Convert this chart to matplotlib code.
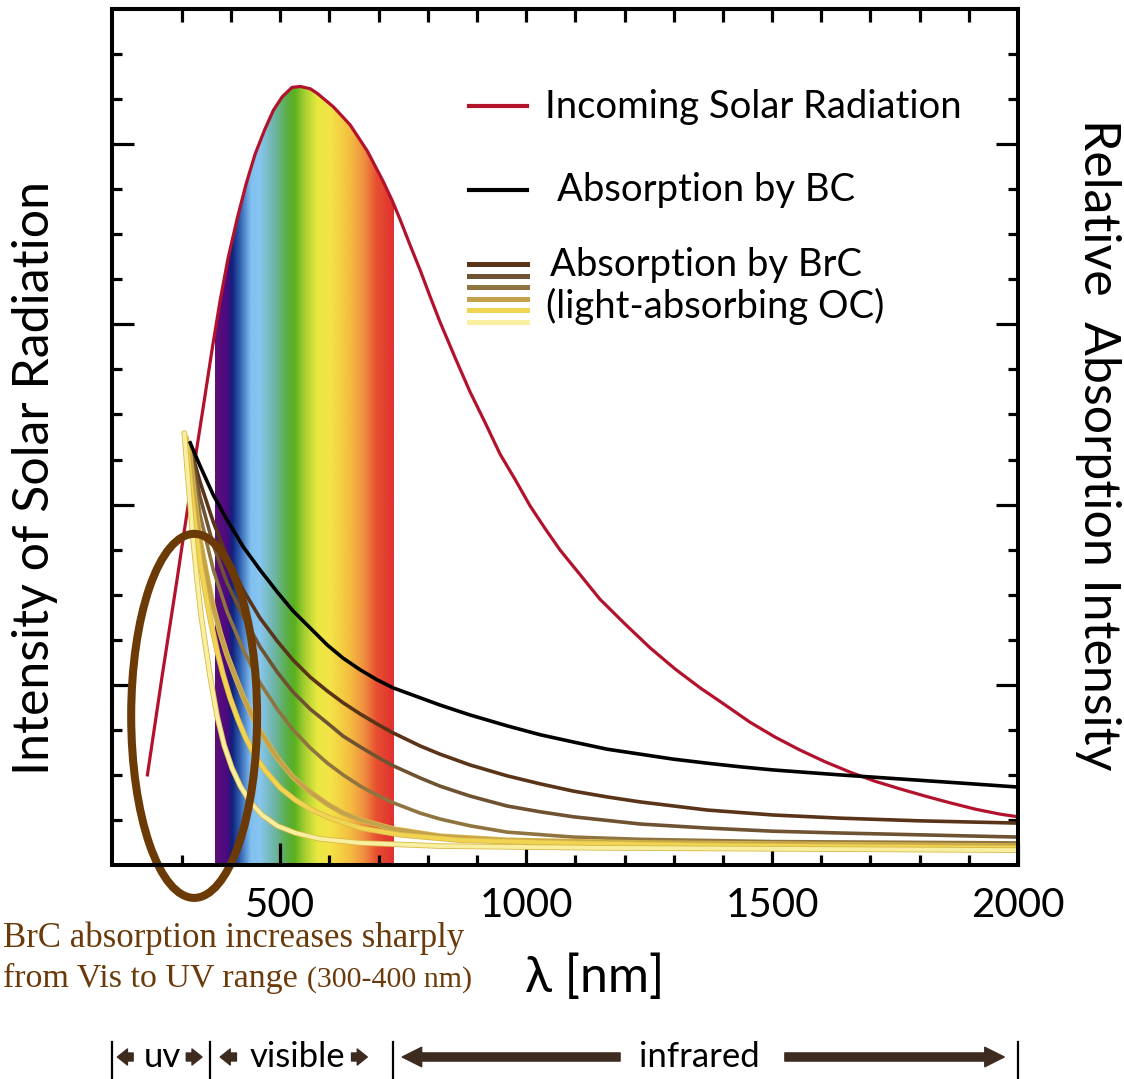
import matplotlib
matplotlib.use("Agg")
import matplotlib.pyplot as plt
import matplotlib.patheffects as pe
import numpy as np
from matplotlib.patches import Ellipse
from matplotlib.colors import LinearSegmentedColormap
from matplotlib.transforms import blended_transform_factory

plt.rcParams['font.family'] = ['Lato', 'DejaVu Sans']

# incoming solar radiation (wavelength nm, arbitrary units)
solar_wl = [230, 260, 291, 321, 346, 362, 378, 394, 413, 431, 449, 468, 486, 504, 524,
            541, 561, 575, 608, 642, 677, 709, 728, 744, 764, 785, 805, 825, 856, 886,
            917, 947, 978, 1008, 1039, 1069, 1110, 1150, 1201, 1252, 1303, 1354, 1405,
            1455, 1506, 1557, 1608, 1659, 1709, 1760, 1811, 1862, 1913, 1963, 2000]
solar_int = [2.00, 4.20, 6.39, 8.59, 10.34, 11.48, 12.54, 13.47, 14.37, 15.13, 15.78,
             16.31, 16.75, 17.05, 17.26, 17.28, 17.23, 17.13, 16.83, 16.43, 15.85, 15.18,
             14.74, 14.32, 13.76, 13.19, 12.61, 12.05, 11.25, 10.50, 9.81, 9.12, 8.55,
             7.97, 7.46, 6.99, 6.44, 5.90, 5.35, 4.82, 4.35, 3.93, 3.55, 3.17, 2.84, 2.55,
             2.29, 2.06, 1.86, 1.69, 1.53, 1.38, 1.24, 1.13, 1.07]

# black carbon absorption
bc_wl = [317, 337, 364, 392, 425, 459, 494, 526, 561, 596, 628, 663, 697, 730, 785, 825,
         886, 961, 1029, 1096, 1165, 1232, 1299, 1368, 1435, 1502, 1638, 1760, 1882, 2000]
bc_abs = [9.37, 8.86, 8.21, 7.66, 7.06, 6.55, 6.06, 5.64, 5.26, 4.88, 4.59, 4.33, 4.11,
          3.93, 3.71, 3.55, 3.33, 3.09, 2.89, 2.73, 2.57, 2.46, 2.35, 2.26, 2.18, 2.11,
          2.00, 1.91, 1.82, 1.73]

# brown carbon absorption, six curves from dark to pale
brc_dark_wl = [317, 337, 364, 392, 425, 459, 494, 526, 561, 596, 628, 663, 697, 730, 785,
               825, 886, 961, 1029, 1096, 1165, 1232, 1368, 1502, 1638, 1801, 2000]
brc_dark = [9.28, 8.50, 7.61, 6.84, 6.10, 5.48, 4.97, 4.55, 4.17, 3.86, 3.60, 3.35, 3.13,
            2.93, 2.64, 2.46, 2.22, 1.98, 1.80, 1.64, 1.51, 1.40, 1.22, 1.11, 1.04, 0.98,
            0.93]

brc_mid_wl = [317, 337, 364, 392, 425, 459, 494, 526, 561, 596, 628, 663, 697, 730, 785,
              825, 886, 961, 1029, 1096, 1232, 1368, 1502, 1638, 2000]
brc_mid = [9.28, 8.17, 7.10, 6.26, 5.51, 4.84, 4.28, 3.84, 3.46, 3.15, 2.86, 2.62, 2.40,
           2.20, 1.93, 1.75, 1.53, 1.31, 1.18, 1.07, 0.91, 0.82, 0.75, 0.71, 0.62]

brc_olive_wl = [315, 337, 364, 392, 425, 459, 494, 526, 561, 596, 628, 663, 697, 730, 785,
                825, 886, 961, 1096, 1232, 1502, 2000]
brc_olive = [9.32, 7.77, 6.55, 5.62, 4.77, 4.04, 3.46, 3.00, 2.60, 2.26, 2.00, 1.75, 1.55,
             1.38, 1.15, 1.02, 0.87, 0.73, 0.62, 0.57, 0.52, 0.49]

brc_tan_wl = [313, 325, 337, 352, 364, 378, 392, 409, 425, 443, 459, 494, 526, 561, 596,
              628, 663, 730, 825, 961, 1232, 2000]
brc_tan = [9.37, 8.21, 7.21, 6.37, 5.73, 5.15, 4.66, 4.17, 3.73, 3.31, 2.97, 2.38, 1.95,
           1.62, 1.35, 1.15, 1.00, 0.80, 0.64, 0.55, 0.49, 0.42]

brc_yellow_wl = [309, 317, 327, 337, 348, 358, 372, 384, 398, 413, 429, 449, 470, 500, 531,
                 561, 602, 663, 744, 866, 1069, 1354, 2000]
brc_yellow = [9.48, 8.55, 7.55, 6.73, 6.04, 5.44, 4.73, 4.22, 3.71, 3.26, 2.84, 2.42, 2.09,
              1.71, 1.44, 1.24, 1.04, 0.82, 0.67, 0.55, 0.49, 0.44, 0.38]

brc_pale_wl = [305, 311, 317, 323, 331, 339, 348, 358, 372, 386, 402, 419, 439, 463, 494,
               531, 581, 663, 825, 1150, 2000]
brc_pale = [9.59, 8.77, 7.99, 7.21, 6.33, 5.55, 4.88, 4.15, 3.29, 2.66, 2.15, 1.75, 1.40,
            1.11, 0.87, 0.71, 0.58, 0.49, 0.42, 0.38, 0.33]

brc_colors = ['#5a3418', '#6e5232', '#8f7440', '#c4a24c', '#f0d452', '#f8f0a0']

# visible spectrum colour stops (nm, colour)
spectrum_wl = [368, 392, 402, 418, 440, 458, 490, 515, 528, 550, 575, 600, 640, 670, 695, 730]
spectrum_col = ['#5e0f78', '#4a0a80', '#10207a', '#3060b0', '#80c0f0', '#88c6f0', '#6cb4a0',
                '#5aae40', '#58b020', '#a8d030', '#e8e840', '#f4e448', '#f4c040', '#f09040',
                '#e85030', '#e03030']

region_edges = [158, 358, 730, 2000]
xtick_vals = [500, 1000, 1500, 2000]

red = '#b3122c'
brown_txt = '#6b3a0a'
arrow_col = '#3d2b1f'

fig = plt.figure(figsize=(11.24, 10.79), dpi=100)
ax = fig.add_axes([112 / 1124, 1 - 865 / 1079, 906 / 1124, 856 / 1079])

# rainbow band under the solar curve
lo, hi = spectrum_wl[0], spectrum_wl[-1]
cmap = LinearSegmentedColormap.from_list(
    'spec', [((w - lo) / (hi - lo), c) for w, c in zip(spectrum_wl, spectrum_col)])
grad = np.linspace(0, 1, 600).reshape(1, -1)
im = ax.imshow(grad, cmap=cmap, aspect='auto', extent=[lo, hi, 0, 19],
               interpolation='bilinear', zorder=1)
under = ax.fill_between(solar_wl, solar_int, 0, facecolor='none', edgecolor='none')
im.set_clip_path(under.get_paths()[0], transform=ax.transData)

ax.plot(solar_wl, solar_int, color=red, lw=2.3, zorder=3, solid_joinstyle='round')

brc = [(brc_dark_wl, brc_dark), (brc_mid_wl, brc_mid), (brc_olive_wl, brc_olive),
       (brc_tan_wl, brc_tan), (brc_yellow_wl, brc_yellow), (brc_pale_wl, brc_pale)]
for i, ((wl, ab), col) in enumerate(zip(brc, brc_colors)):
    if i >= 3:
        ax.plot(wl, ab, color=col, lw=2.8, zorder=4 + i * 0.1, solid_joinstyle='round',
                solid_capstyle='round',
                path_effects=[pe.withStroke(linewidth=4.0, foreground='#d9b84a')])
    else:
        ax.plot(wl, ab, color=col, lw=2.6, zorder=4 + i * 0.1, solid_joinstyle='round')

ax.plot(bc_wl, bc_abs, color='black', lw=2.6, zorder=5, solid_joinstyle='round')

ax.add_patch(Ellipse((325, 3.31), width=256, height=8.08, fill=False,
                     edgecolor='#6b3a06', lw=5.8, zorder=6, clip_on=False))

# axes, ticks
ax.set_xlim(158, 2000)
ax.set_ylim(0, 19)
ax.set_xticks(xtick_vals)
ax.set_xticklabels([str(v) for v in xtick_vals])
ax.set_xticks(np.arange(300, 2001, 100), minor=True)
ax.set_yticks([4, 8, 12, 16])
ax.set_yticklabels([])
ax.set_yticks(np.arange(1, 19), minor=True)
ax.tick_params(which='both', direction='in', width=2.3, left=True, right=True,
               top=False, bottom=True)
ax.tick_params(which='major', length=16)
ax.tick_params(which='minor', length=7.5)
ax.tick_params(axis='x', which='major', labelsize=29, pad=16)
for s in ax.spines.values():
    s.set_linewidth(2.9)
    s.set_zorder(10)

sec = ax.secondary_xaxis('top')
sec.set_xticks(np.arange(300, 2000, 100))
sec.set_xticklabels([])
sec.tick_params(direction='in', length=9, width=2.3)
sec.spines['top'].set_linewidth(2.9)

ax.text(-0.085, 0.452, 'Intensity of Solar Radiation', transform=ax.transAxes,
        rotation=90, ha='center', va='center', fontsize=36)
ax.text(1.088, 0.491, 'Relative  Absorption Intensity', transform=ax.transAxes,
        rotation=-90, ha='center', va='center', fontsize=36)
ax.text(0.533, -0.132, 'λ [nm]', transform=ax.transAxes, ha='center', va='center',
        fontsize=36)

# legend drawn by hand
ax.plot([0.394, 0.458], [0.887, 0.887], transform=ax.transAxes, color=red, lw=3)
ax.text(0.478, 0.873, 'Incoming Solar Radiation', transform=ax.transAxes,
        fontsize=27.5, va='baseline')
ax.plot([0.394, 0.458], [0.789, 0.789], transform=ax.transAxes, color='black', lw=3)
ax.text(0.491, 0.776, 'Absorption by BC', transform=ax.transAxes, fontsize=27.5,
        va='baseline')
for k, col in enumerate(brc_colors):
    yy = 0.702 - k * 0.01345
    ax.plot([0.394, 0.458], [yy, yy], transform=ax.transAxes, color=col, lw=3.6)
ax.text(0.483, 0.688, 'Absorption by BrC', transform=ax.transAxes, fontsize=27.5,
        va='baseline')
ax.text(0.479, 0.639, '(light-absorbing OC)', transform=ax.transAxes, fontsize=27.5,
        va='baseline')

# annotation below the plot
fig.text(3 / 1124, 1 - 947 / 1079, 'BrC absorption increases sharply', ha='left',
         va='baseline', fontsize=25, family='Liberation Serif', color=brown_txt)
fig.text(3 / 1124, 1 - 987 / 1079, 'from Vis to UV range', ha='left',
         va='baseline', fontsize=24.5, family='Liberation Serif', color=brown_txt)
fig.text(472 / 1124, 1 - 987 / 1079, '(300-400 nm)', ha='right',
         va='baseline', fontsize=21.5, family='Liberation Serif', color=brown_txt)

# uv / visible / infrared ranges
trans = blended_transform_factory(ax.transData, fig.transFigure)
y_ann = 1 - 1057 / 1079
for e in region_edges:
    ax.plot([e, e], [1 - 1042 / 1079, 0], transform=trans, color='black', lw=1.6,
            clip_on=False)

small = dict(arrowstyle='simple,head_length=0.45,head_width=0.72,tail_width=0.36',
             color=arrow_col, shrinkA=0, shrinkB=0, mutation_scale=16)
big = dict(arrowstyle='simple,head_length=1.0,head_width=1.0,tail_width=0.42',
           color=arrow_col, shrinkA=0, shrinkB=0, mutation_scale=14)
for tip, tail, props in [(169, 201, small), (341, 309, small), (378, 411, small),
                         (677, 645, small), (748, 1191, big), (1972, 1526, big)]:
    ax.annotate('', xy=(tip, y_ann), xytext=(tail, y_ann), xycoords=trans,
                textcoords=trans, arrowprops=props, annotation_clip=False)
ax.text(260, y_ann, 'uv', transform=trans, ha='center', va='center', fontsize=25)
ax.text(535, y_ann, 'visible', transform=trans, ha='center', va='center', fontsize=25)
ax.text(1352, y_ann, 'infrared', transform=trans, ha='center', va='center', fontsize=25)

fig.savefig('out.png', dpi=100)
